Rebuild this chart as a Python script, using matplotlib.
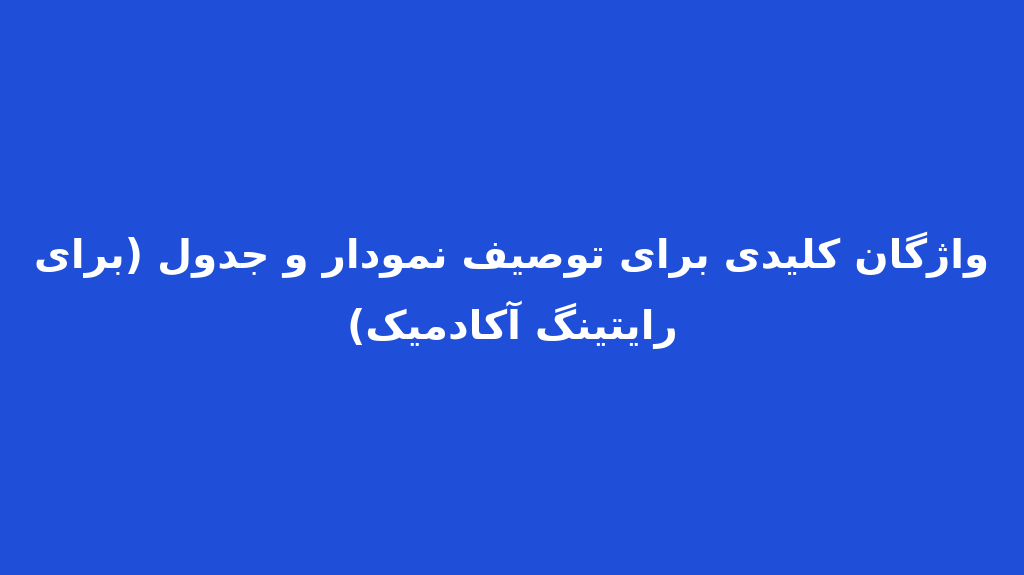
import matplotlib
matplotlib.use("Agg")
import matplotlib.pyplot as plt

# title text (logical order, Persian)
title_lines = [
    "واژگان کلیدی برای توصیف نمودار و جدول (برای",
    "رایتینگ آکادمیک)",
]
bg_color = "#1f4ed8"

# presentation forms: isolated, final, initial, medial
forms = {
    "ا": ("\uFE8D", "\uFE8E", None, None),
    "آ": ("\uFE81", "\uFE82", None, None),
    "ب": ("\uFE8F", "\uFE90", "\uFE91", "\uFE92"),
    "ت": ("\uFE95", "\uFE96", "\uFE97", "\uFE98"),
    "ج": ("\uFE9D", "\uFE9E", "\uFE9F", "\uFEA0"),
    "د": ("\uFEA9", "\uFEAA", None, None),
    "ر": ("\uFEAD", "\uFEAE", None, None),
    "ژ": ("\uFB8A", "\uFB8B", None, None),
    "ص": ("\uFEB9", "\uFEBA", "\uFEBB", "\uFEBC"),
    "ف": ("\uFED1", "\uFED2", "\uFED3", "\uFED4"),
    "ک": ("\uFB8E", "\uFB8F", "\uFB90", "\uFB91"),
    "گ": ("\uFB92", "\uFB93", "\uFB94", "\uFB95"),
    "ل": ("\uFEDD", "\uFEDE", "\uFEDF", "\uFEE0"),
    "م": ("\uFEE1", "\uFEE2", "\uFEE3", "\uFEE4"),
    "ن": ("\uFEE5", "\uFEE6", "\uFEE7", "\uFEE8"),
    "و": ("\uFEED", "\uFEEE", None, None),
    "ی": ("\uFBFC", "\uFBFD", "\uFBFE", "\uFBFF"),
}


def shape(text):
    out = []
    for i, ch in enumerate(text):
        if ch not in forms:
            out.append(ch)
            continue
        prev = text[i - 1] if i > 0 else ""
        nxt = text[i + 1] if i + 1 < len(text) else ""
        join_prev = prev in forms and forms[prev][2] is not None
        join_next = forms[ch][2] is not None and nxt in forms
        iso, fin, ini, med = forms[ch]
        if join_prev and join_next:
            out.append(med)
        elif join_prev:
            out.append(fin)
        elif join_next:
            out.append(ini)
        else:
            out.append(iso)
    vis = "".join(reversed(out))
    return vis.translate(str.maketrans("()", ")("))


fig = plt.figure(figsize=(10.24, 5.75), dpi=100)
fig.patch.set_facecolor(bg_color)

y_pos = [0.557, 0.435]
for line, y in zip(title_lines, y_pos):
    fig.text(0.5, y, shape(line), color="white", fontsize=29,
             fontweight="bold", family=["DejaVu Sans"],
             ha="center", va="center")

fig.savefig("out.png", dpi=100, facecolor=bg_color)
